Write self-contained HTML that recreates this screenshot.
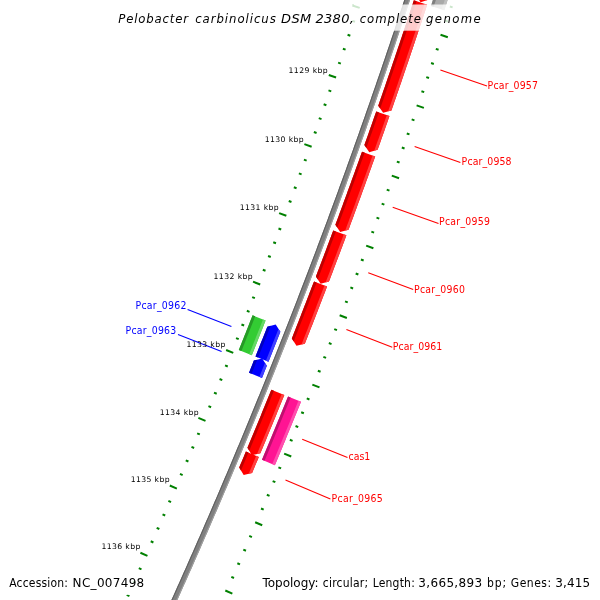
<!DOCTYPE html>
<html><head><meta charset="utf-8"><title>Pelobacter carbinolicus DSM 2380</title>
<style>
html,body{margin:0;padding:0;background:#fff;}
svg{display:block;will-change:transform;}
text{font-family:"DejaVu Sans","Liberation Sans",sans-serif;}
.tk{font-size:7.7px;fill:#000;}
.fl{font-size:10.4px;}
.ti{font-size:13px;font-style:italic;fill:#000;}
.lg{font-size:12px;fill:#000;}
</style></head><body>
<svg width="600" height="600" viewBox="0 0 600 600">
<rect width="600" height="600" fill="#fff"/>
<path d="M420.44 -49.88 L419.54 -47.06 L418.64 -44.24 L417.73 -41.42 L416.83 -38.61 L415.93 -35.79 L415.02 -32.97 L414.11 -30.16 L413.2 -27.34 L412.29 -24.52 L411.38 -21.71 L410.47 -18.9 L409.55 -16.08 L408.63 -13.27 L407.72 -10.45 L406.8 -7.64 L405.88 -4.83 L404.96 -2.02 L404.03 0.79 L403.11 3.6 L402.18 6.41 L401.26 9.22 L400.33 12.03 L399.4 14.84 L398.47 17.65 L397.53 20.46 L396.6 23.27 L395.67 26.08 L394.73 28.88 L393.79 31.69 L392.85 34.49 L391.91 37.3 L390.97 40.11 L390.03 42.91 L389.08 45.71 L388.13 48.52 L387.19 51.32 L386.24 54.12 L385.29 56.93 L384.34 59.73 L383.38 62.53 L382.43 65.33 L381.47 68.13 L380.52 70.93 L379.56 73.73 L378.6 76.53 L377.64 79.33 L376.68 82.12 L375.71 84.92 L374.75 87.72 L373.78 90.52 L372.81 93.31 L371.84 96.11 L370.87 98.9 L369.9 101.7 L368.93 104.49 L367.95 107.29 L366.98 110.08 L366 112.87 L365.02 115.66 L364.04 118.46 L363.06 121.25 L362.07 124.04 L361.09 126.83 L360.1 129.62 L359.12 132.41 L358.13 135.2 L357.14 137.99 L356.15 140.78 L355.16 143.56 L354.16 146.35 L353.17 149.14 L352.17 151.92 L351.17 154.71 L350.17 157.49 L349.17 160.28 L348.17 163.06 L347.17 165.85 L346.16 168.63 L345.16 171.41 L344.15 174.19 L343.14 176.98 L342.13 179.76 L341.12 182.54 L340.11 185.32 L339.09 188.1 L338.08 190.88 L337.06 193.66 L336.04 196.43 L335.03 199.21 L334 201.99 L332.98 204.77 L331.96 207.54 L330.93 210.32 L329.91 213.09 L328.88 215.87 L327.85 218.64 L326.82 221.42 L325.79 224.19 L324.76 226.96 L323.72 229.74 L322.69 232.51 L321.65 235.28 L320.61 238.05 L319.57 240.82 L318.53 243.59 L317.49 246.36 L316.45 249.13 L315.4 251.9 L314.35 254.66 L313.31 257.43 L312.26 260.2 L311.21 262.96 L310.15 265.73 L309.1 268.5 L308.05 271.26 L306.99 274.02 L305.93 276.79 L304.88 279.55 L303.82 282.31 L302.75 285.08 L301.69 287.84 L300.63 290.6 L299.56 293.36 L298.5 296.12 L297.43 298.88 L296.36 301.64 L295.29 304.4 L294.22 307.15 L293.14 309.91 L292.07 312.67 L290.99 315.43 L289.92 318.18 L288.84 320.94 L287.76 323.69 L286.68 326.45 L285.59 329.2 L284.51 331.95 L283.42 334.71 L282.34 337.46 L281.25 340.21 L280.16 342.96 L279.07 345.71 L277.98 348.46 L276.88 351.21 L275.79 353.96 L274.69 356.71 L273.6 359.46 L272.5 362.2 L271.4 364.95 L270.3 367.7 L269.19 370.44 L268.09 373.19 L266.98 375.93 L265.88 378.68 L264.77 381.42 L263.66 384.16 L262.55 386.91 L261.44 389.65 L260.32 392.39 L259.21 395.13 L258.09 397.87 L256.98 400.61 L255.86 403.35 L254.74 406.09 L253.62 408.83 L252.49 411.57 L251.37 414.3 L250.24 417.04 L249.12 419.78 L247.99 422.51 L246.86 425.25 L245.73 427.98 L244.6 430.71 L243.46 433.45 L242.33 436.18 L241.19 438.91 L240.06 441.65 L238.92 444.38 L237.78 447.11 L236.64 449.84 L235.49 452.57 L234.35 455.3 L233.2 458.02 L232.06 460.75 L230.91 463.48 L229.76 466.21 L228.61 468.93 L227.46 471.66 L226.31 474.38 L225.15 477.11 L223.99 479.83 L222.84 482.55 L221.68 485.28 L220.52 488 L219.36 490.72 L218.2 493.44 L217.03 496.16 L215.87 498.88 L214.7 501.6 L213.53 504.32 L212.36 507.04 L211.19 509.76 L210.02 512.47 L208.85 515.19 L207.67 517.91 L206.5 520.62 L205.32 523.34 L204.14 526.05 L202.96 528.76 L201.78 531.48 L200.6 534.19 L199.42 536.9 L198.23 539.61 L197.04 542.32 L195.86 545.03 L194.67 547.74 L193.48 550.45 L192.29 553.16 L191.09 555.87 L189.9 558.58 L188.7 561.28 L187.51 563.99 L186.31 566.69 L185.11 569.4 L183.91 572.1 L182.71 574.81 L181.5 577.51 L180.3 580.21 L179.09 582.91 L177.89 585.62 L176.68 588.32 L175.47 591.02 L174.26 593.72 L173.04 596.42 L171.83 599.11 L170.61 601.81 L169.4 604.51 L168.18 607.21 L166.96 609.9 L165.74 612.6 L164.52 615.29 L163.3 617.99 L162.07 620.68 L160.85 623.38 L159.62 626.07 L158.39 628.76 L157.16 631.45 L155.93 634.14 L154.7 636.83 L153.46 639.52 L152.23 642.21 L150.99 644.9 L149.76 647.59 L148.52 650.27 L147.28 652.96 L152.18 655.22 L153.42 652.54 L154.66 649.85 L155.9 647.16 L157.14 644.47 L158.37 641.77 L159.61 639.08 L160.84 636.39 L162.07 633.7 L163.3 631 L164.53 628.31 L165.76 625.61 L166.99 622.92 L168.21 620.22 L169.44 617.52 L170.66 614.83 L171.88 612.13 L173.1 609.43 L174.32 606.73 L175.54 604.03 L176.75 601.33 L177.97 598.63 L179.18 595.93 L180.39 593.23 L181.61 590.52 L182.82 587.82 L184.02 585.12 L185.23 582.41 L186.44 579.71 L187.64 577 L188.84 574.3 L190.05 571.59 L191.25 568.88 L192.45 566.17 L193.64 563.47 L194.84 560.76 L196.03 558.05 L197.23 555.34 L198.42 552.63 L199.61 549.91 L200.8 547.2 L201.99 544.49 L203.18 541.78 L204.36 539.06 L205.55 536.35 L206.73 533.63 L207.91 530.92 L209.1 528.2 L210.27 525.48 L211.45 522.77 L212.63 520.05 L213.8 517.33 L214.98 514.61 L216.15 511.89 L217.32 509.17 L218.49 506.45 L219.66 503.73 L220.83 501.01 L222 498.29 L223.16 495.56 L224.32 492.84 L225.49 490.12 L226.65 487.39 L227.81 484.67 L228.97 481.94 L230.12 479.21 L231.28 476.49 L232.43 473.76 L233.58 471.03 L234.74 468.3 L235.89 465.57 L237.04 462.84 L238.18 460.11 L239.33 457.38 L240.47 454.65 L241.62 451.92 L242.76 449.19 L243.9 446.46 L245.04 443.72 L246.18 440.99 L247.32 438.25 L248.45 435.52 L249.59 432.78 L250.72 430.05 L251.85 427.31 L252.98 424.57 L254.11 421.83 L255.24 419.09 L256.36 416.36 L257.49 413.62 L258.61 410.88 L259.74 408.14 L260.86 405.39 L261.98 402.65 L263.09 399.91 L264.21 397.17 L265.33 394.42 L266.44 391.68 L267.55 388.94 L268.67 386.19 L269.78 383.44 L270.89 380.7 L271.99 377.95 L273.1 375.2 L274.2 372.46 L275.31 369.71 L276.41 366.96 L277.51 364.21 L278.61 361.46 L279.71 358.71 L280.81 355.96 L281.9 353.21 L283 350.46 L284.09 347.7 L285.18 344.95 L286.27 342.2 L287.36 339.44 L288.45 336.69 L289.53 333.93 L290.62 331.18 L291.7 328.42 L292.78 325.66 L293.87 322.91 L294.94 320.15 L296.02 317.39 L297.1 314.63 L298.18 311.87 L299.25 309.11 L300.32 306.35 L301.39 303.59 L302.46 300.83 L303.53 298.07 L304.6 295.3 L305.67 292.54 L306.73 289.78 L307.8 287.01 L308.86 284.25 L309.92 281.48 L310.98 278.72 L312.04 275.95 L313.09 273.19 L314.15 270.42 L315.2 267.65 L316.25 264.88 L317.31 262.11 L318.36 259.34 L319.4 256.58 L320.45 253.8 L321.5 251.03 L322.54 248.26 L323.59 245.49 L324.63 242.72 L325.67 239.95 L326.71 237.17 L327.75 234.4 L328.78 231.62 L329.82 228.85 L330.85 226.07 L331.88 223.3 L332.91 220.52 L333.94 217.75 L334.97 214.97 L336 212.19 L337.03 209.41 L338.05 206.63 L339.07 203.85 L340.09 201.07 L341.11 198.29 L342.13 195.51 L343.15 192.73 L344.17 189.95 L345.18 187.17 L346.2 184.39 L347.21 181.6 L348.22 178.82 L349.23 176.03 L350.24 173.25 L351.24 170.46 L352.25 167.68 L353.25 164.89 L354.26 162.11 L355.26 159.32 L356.26 156.53 L357.26 153.74 L358.25 150.95 L359.25 148.16 L360.24 145.37 L361.24 142.58 L362.23 139.79 L363.22 137 L364.21 134.21 L365.2 131.42 L366.18 128.63 L367.17 125.83 L368.15 123.04 L369.13 120.25 L370.11 117.45 L371.09 114.66 L372.07 111.86 L373.05 109.07 L374.03 106.27 L375 103.47 L375.97 100.68 L376.94 97.88 L377.91 95.08 L378.88 92.28 L379.85 89.48 L380.82 86.68 L381.78 83.88 L382.74 81.08 L383.71 78.28 L384.67 75.48 L385.63 72.68 L386.58 69.88 L387.54 67.07 L388.5 64.27 L389.45 61.47 L390.4 58.66 L391.35 55.86 L392.3 53.05 L393.25 50.25 L394.2 47.44 L395.14 44.63 L396.09 41.83 L397.03 39.02 L397.97 36.21 L398.91 33.4 L399.85 30.59 L400.79 27.78 L401.72 24.97 L402.66 22.16 L403.59 19.35 L404.52 16.54 L405.46 13.73 L406.38 10.92 L407.31 8.11 L408.24 5.29 L409.16 2.48 L410.09 -0.33 L411.01 -3.15 L411.93 -5.96 L412.85 -8.78 L413.77 -11.59 L414.69 -14.41 L415.6 -17.23 L416.52 -20.04 L417.43 -22.86 L418.34 -25.68 L419.25 -28.5 L420.16 -31.32 L421.07 -34.14 L421.97 -36.96 L422.88 -39.78 L423.78 -42.6 L424.68 -45.42 L425.58 -48.24 Z" fill="#808080"/>
<path d="M420.44 -49.88 L419.54 -47.06 L418.64 -44.24 L417.73 -41.42 L416.83 -38.61 L415.93 -35.79 L415.02 -32.97 L414.11 -30.16 L413.2 -27.34 L412.29 -24.52 L411.38 -21.71 L410.47 -18.9 L409.55 -16.08 L408.63 -13.27 L407.72 -10.45 L406.8 -7.64 L405.88 -4.83 L404.96 -2.02 L404.03 0.79 L403.11 3.6 L402.18 6.41 L401.26 9.22 L400.33 12.03 L399.4 14.84 L398.47 17.65 L397.53 20.46 L396.6 23.27 L395.67 26.08 L394.73 28.88 L393.79 31.69 L392.85 34.49 L391.91 37.3 L390.97 40.11 L390.03 42.91 L389.08 45.71 L388.13 48.52 L387.19 51.32 L386.24 54.12 L385.29 56.93 L384.34 59.73 L383.38 62.53 L382.43 65.33 L381.47 68.13 L380.52 70.93 L379.56 73.73 L378.6 76.53 L377.64 79.33 L376.68 82.12 L375.71 84.92 L374.75 87.72 L373.78 90.52 L372.81 93.31 L371.84 96.11 L370.87 98.9 L369.9 101.7 L368.93 104.49 L367.95 107.29 L366.98 110.08 L366 112.87 L365.02 115.66 L364.04 118.46 L363.06 121.25 L362.07 124.04 L361.09 126.83 L360.1 129.62 L359.12 132.41 L358.13 135.2 L357.14 137.99 L356.15 140.78 L355.16 143.56 L354.16 146.35 L353.17 149.14 L352.17 151.92 L351.17 154.71 L350.17 157.49 L349.17 160.28 L348.17 163.06 L347.17 165.85 L346.16 168.63 L345.16 171.41 L344.15 174.19 L343.14 176.98 L342.13 179.76 L341.12 182.54 L340.11 185.32 L339.09 188.1 L338.08 190.88 L337.06 193.66 L336.04 196.43 L335.03 199.21 L334 201.99 L332.98 204.77 L331.96 207.54 L330.93 210.32 L329.91 213.09 L328.88 215.87 L327.85 218.64 L326.82 221.42 L325.79 224.19 L324.76 226.96 L323.72 229.74 L322.69 232.51 L321.65 235.28 L320.61 238.05 L319.57 240.82 L318.53 243.59 L317.49 246.36 L316.45 249.13 L315.4 251.9 L314.35 254.66 L313.31 257.43 L312.26 260.2 L311.21 262.96 L310.15 265.73 L309.1 268.5 L308.05 271.26 L306.99 274.02 L305.93 276.79 L304.88 279.55 L303.82 282.31 L302.75 285.08 L301.69 287.84 L300.63 290.6 L299.56 293.36 L298.5 296.12 L297.43 298.88 L296.36 301.64 L295.29 304.4 L294.22 307.15 L293.14 309.91 L292.07 312.67 L290.99 315.43 L289.92 318.18 L288.84 320.94 L287.76 323.69 L286.68 326.45 L285.59 329.2 L284.51 331.95 L283.42 334.71 L282.34 337.46 L281.25 340.21 L280.16 342.96 L279.07 345.71 L277.98 348.46 L276.88 351.21 L275.79 353.96 L274.69 356.71 L273.6 359.46 L272.5 362.2 L271.4 364.95 L270.3 367.7 L269.19 370.44 L268.09 373.19 L266.98 375.93 L265.88 378.68 L264.77 381.42 L263.66 384.16 L262.55 386.91 L261.44 389.65 L260.32 392.39 L259.21 395.13 L258.09 397.87 L256.98 400.61 L255.86 403.35 L254.74 406.09 L253.62 408.83 L252.49 411.57 L251.37 414.3 L250.24 417.04 L249.12 419.78 L247.99 422.51 L246.86 425.25 L245.73 427.98 L244.6 430.71 L243.46 433.45 L242.33 436.18 L241.19 438.91 L240.06 441.65 L238.92 444.38 L237.78 447.11 L236.64 449.84 L235.49 452.57 L234.35 455.3 L233.2 458.02 L232.06 460.75 L230.91 463.48 L229.76 466.21 L228.61 468.93 L227.46 471.66 L226.31 474.38 L225.15 477.11 L223.99 479.83 L222.84 482.55 L221.68 485.28 L220.52 488 L219.36 490.72 L218.2 493.44 L217.03 496.16 L215.87 498.88 L214.7 501.6 L213.53 504.32 L212.36 507.04 L211.19 509.76 L210.02 512.47 L208.85 515.19 L207.67 517.91 L206.5 520.62 L205.32 523.34 L204.14 526.05 L202.96 528.76 L201.78 531.48 L200.6 534.19 L199.42 536.9 L198.23 539.61 L197.04 542.32 L195.86 545.03 L194.67 547.74 L193.48 550.45 L192.29 553.16 L191.09 555.87 L189.9 558.58 L188.7 561.28 L187.51 563.99 L186.31 566.69 L185.11 569.4 L183.91 572.1 L182.71 574.81 L181.5 577.51 L180.3 580.21 L179.09 582.91 L177.89 585.62 L176.68 588.32 L175.47 591.02 L174.26 593.72 L173.04 596.42 L171.83 599.11 L170.61 601.81 L169.4 604.51 L168.18 607.21 L166.96 609.9 L165.74 612.6 L164.52 615.29 L163.3 617.99 L162.07 620.68 L160.85 623.38 L159.62 626.07 L158.39 628.76 L157.16 631.45 L155.93 634.14 L154.7 636.83 L153.46 639.52 L152.23 642.21 L150.99 644.9 L149.76 647.59 L148.52 650.27 L147.28 652.96 L148.26 653.41 L149.5 650.73 L150.74 648.04 L151.97 645.35 L153.21 642.66 L154.45 639.97 L155.68 637.28 L156.91 634.59 L158.14 631.9 L159.37 629.21 L160.6 626.52 L161.83 623.82 L163.05 621.13 L164.28 618.43 L165.5 615.74 L166.72 613.04 L167.94 610.35 L169.16 607.65 L170.38 604.95 L171.6 602.26 L172.81 599.56 L174.03 596.86 L175.24 594.16 L176.45 591.46 L177.66 588.76 L178.87 586.06 L180.08 583.36 L181.29 580.65 L182.49 577.95 L183.69 575.25 L184.9 572.54 L186.1 569.84 L187.3 567.13 L188.49 564.43 L189.69 561.72 L190.89 559.01 L192.08 556.3 L193.27 553.6 L194.47 550.89 L195.66 548.18 L196.85 545.47 L198.03 542.76 L199.22 540.04 L200.41 537.33 L201.59 534.62 L202.77 531.91 L203.95 529.19 L205.13 526.48 L206.31 523.77 L207.49 521.05 L208.66 518.33 L209.84 515.62 L211.01 512.9 L212.18 510.18 L213.36 507.46 L214.52 504.75 L215.69 502.03 L216.86 499.31 L218.02 496.59 L219.19 493.87 L220.35 491.14 L221.51 488.42 L222.67 485.7 L223.83 482.98 L224.99 480.25 L226.14 477.53 L227.3 474.8 L228.45 472.08 L229.61 469.35 L230.76 466.62 L231.91 463.9 L233.05 461.17 L234.2 458.44 L235.35 455.71 L236.49 452.98 L237.63 450.25 L238.77 447.52 L239.91 444.79 L241.05 442.06 L242.19 439.33 L243.33 436.6 L244.46 433.86 L245.6 431.13 L246.73 428.39 L247.86 425.66 L248.99 422.92 L250.12 420.19 L251.24 417.45 L252.37 414.71 L253.49 411.98 L254.62 409.24 L255.74 406.5 L256.86 403.76 L257.98 401.02 L259.09 398.28 L260.21 395.54 L261.32 392.8 L262.44 390.06 L263.55 387.31 L264.66 384.57 L265.77 381.83 L266.88 379.08 L267.99 376.34 L269.09 373.59 L270.2 370.85 L271.3 368.1 L272.4 365.35 L273.5 362.61 L274.6 359.86 L275.7 357.11 L276.79 354.36 L277.89 351.61 L278.98 348.86 L280.07 346.11 L281.16 343.36 L282.25 340.61 L283.34 337.85 L284.43 335.1 L285.51 332.35 L286.6 329.6 L287.68 326.84 L288.76 324.09 L289.84 321.33 L290.92 318.57 L292 315.82 L293.08 313.06 L294.15 310.3 L295.22 307.55 L296.3 304.79 L297.37 302.03 L298.44 299.27 L299.5 296.51 L300.57 293.75 L301.64 290.99 L302.7 288.23 L303.76 285.46 L304.82 282.7 L305.88 279.94 L306.94 277.17 L308 274.41 L309.06 271.65 L310.11 268.88 L311.16 266.11 L312.22 263.35 L313.27 260.58 L314.32 257.81 L315.36 255.05 L316.41 252.28 L317.46 249.51 L318.5 246.74 L319.54 243.97 L320.58 241.2 L321.62 238.43 L322.66 235.66 L323.7 232.89 L324.73 230.11 L325.77 227.34 L326.8 224.57 L327.83 221.79 L328.86 219.02 L329.89 216.24 L330.92 213.47 L331.95 210.69 L332.97 207.92 L334 205.14 L335.02 202.36 L336.04 199.58 L337.06 196.81 L338.08 194.03 L339.09 191.25 L340.11 188.47 L341.12 185.69 L342.14 182.91 L343.15 180.13 L344.16 177.34 L345.17 174.56 L346.17 171.78 L347.18 169 L348.19 166.21 L349.19 163.43 L350.19 160.64 L351.19 157.86 L352.19 155.07 L353.19 152.29 L354.18 149.5 L355.18 146.71 L356.17 143.93 L357.17 141.14 L358.16 138.35 L359.15 135.56 L360.14 132.77 L361.12 129.98 L362.11 127.19 L363.09 124.4 L364.08 121.61 L365.06 118.81 L366.04 116.02 L367.02 113.23 L367.99 110.44 L368.97 107.64 L369.95 104.85 L370.92 102.05 L371.89 99.26 L372.86 96.46 L373.83 93.67 L374.8 90.87 L375.77 88.07 L376.73 85.27 L377.7 82.48 L378.66 79.68 L379.62 76.88 L380.58 74.08 L381.54 71.28 L382.5 68.48 L383.45 65.68 L384.41 62.88 L385.36 60.07 L386.31 57.27 L387.26 54.47 L388.21 51.67 L389.16 48.86 L390.1 46.06 L391.05 43.25 L391.99 40.45 L392.94 37.64 L393.88 34.84 L394.82 32.03 L395.75 29.22 L396.69 26.42 L397.63 23.61 L398.56 20.8 L399.49 17.99 L400.42 15.18 L401.35 12.37 L402.28 9.56 L403.21 6.75 L404.14 3.94 L405.06 1.13 L405.98 -1.68 L406.9 -4.49 L407.82 -7.31 L408.74 -10.12 L409.66 -12.93 L410.58 -15.75 L411.49 -18.56 L412.41 -21.38 L413.32 -24.19 L414.23 -27.01 L415.14 -29.82 L416.05 -32.64 L416.95 -35.46 L417.86 -38.28 L418.76 -41.09 L419.67 -43.91 L420.57 -46.73 L421.47 -49.55 Z" fill="#606060"/>
<path d="M424.55 -48.57 L423.65 -45.75 L422.75 -42.93 L421.85 -40.11 L420.94 -37.29 L420.04 -34.47 L419.13 -31.65 L418.22 -28.83 L417.31 -26.01 L416.4 -23.19 L415.49 -20.38 L414.57 -17.56 L413.66 -14.74 L412.74 -11.93 L411.82 -9.11 L410.9 -6.3 L409.98 -3.49 L409.06 -0.67 L408.14 2.14 L407.21 4.95 L406.29 7.77 L405.36 10.58 L404.43 13.39 L403.5 16.2 L402.57 19.01 L401.63 21.82 L400.7 24.63 L399.76 27.44 L398.83 30.25 L397.89 33.06 L396.95 35.87 L396.01 38.67 L395.06 41.48 L394.12 44.29 L393.17 47.09 L392.23 49.9 L391.28 52.7 L390.33 55.51 L389.38 58.31 L388.43 61.12 L387.47 63.92 L386.52 66.72 L385.56 69.53 L384.6 72.33 L383.65 75.13 L382.68 77.93 L381.72 80.73 L380.76 83.53 L379.8 86.33 L378.83 89.13 L377.86 91.93 L376.89 94.73 L375.92 97.52 L374.95 100.32 L373.98 103.12 L373.01 105.91 L372.03 108.71 L371.05 111.51 L370.08 114.3 L369.1 117.09 L368.11 119.89 L367.13 122.68 L366.15 125.48 L365.16 128.27 L364.18 131.06 L363.19 133.85 L362.2 136.64 L361.21 139.43 L360.22 142.22 L359.23 145.01 L358.23 147.8 L357.24 150.59 L356.24 153.38 L355.24 156.17 L354.24 158.95 L353.24 161.74 L352.24 164.53 L351.23 167.31 L350.23 170.1 L349.22 172.88 L348.21 175.67 L347.2 178.45 L346.19 181.23 L345.18 184.02 L344.17 186.8 L343.15 189.58 L342.14 192.36 L341.12 195.14 L340.1 197.92 L339.08 200.7 L338.06 203.48 L337.04 206.26 L336.01 209.04 L334.99 211.82 L333.96 214.59 L332.93 217.37 L331.9 220.15 L330.87 222.92 L329.84 225.7 L328.8 228.47 L327.77 231.25 L326.73 234.02 L325.7 236.79 L324.66 239.57 L323.62 242.34 L322.57 245.11 L321.53 247.88 L320.49 250.65 L319.44 253.42 L318.39 256.19 L317.35 258.96 L316.3 261.73 L315.24 264.5 L314.19 267.27 L313.14 270.03 L312.08 272.8 L311.03 275.57 L309.97 278.33 L308.91 281.1 L307.85 283.86 L306.79 286.63 L305.72 289.39 L304.66 292.15 L303.59 294.92 L302.53 297.68 L301.46 300.44 L300.39 303.2 L299.32 305.96 L298.24 308.72 L297.17 311.48 L296.09 314.24 L295.02 317 L293.94 319.76 L292.86 322.51 L291.78 325.27 L290.7 328.03 L289.61 330.78 L288.53 333.54 L287.44 336.29 L286.36 339.05 L285.27 341.8 L284.18 344.55 L283.09 347.3 L281.99 350.06 L280.9 352.81 L279.8 355.56 L278.71 358.31 L277.61 361.06 L276.51 363.81 L275.41 366.56 L274.31 369.31 L273.2 372.05 L272.1 374.8 L270.99 377.55 L269.88 380.29 L268.77 383.04 L267.66 385.79 L266.55 388.53 L265.44 391.27 L264.33 394.02 L263.21 396.76 L262.09 399.5 L260.98 402.24 L259.86 404.99 L258.74 407.73 L257.61 410.47 L256.49 413.21 L255.37 415.95 L254.24 418.68 L253.11 421.42 L251.98 424.16 L250.85 426.9 L249.72 429.63 L248.59 432.37 L247.45 435.1 L246.32 437.84 L245.18 440.57 L244.04 443.31 L242.9 446.04 L241.76 448.77 L240.62 451.5 L239.48 454.24 L238.33 456.97 L237.19 459.7 L236.04 462.43 L234.89 465.16 L233.74 467.88 L232.59 470.61 L231.44 473.34 L230.28 476.07 L229.13 478.79 L227.97 481.52 L226.81 484.24 L225.65 486.97 L224.49 489.69 L223.33 492.42 L222.17 495.14 L221 497.86 L219.84 500.58 L218.67 503.3 L217.5 506.03 L216.33 508.75 L215.16 511.47 L213.99 514.18 L212.81 516.9 L211.64 519.62 L210.46 522.34 L209.28 525.05 L208.1 527.77 L206.92 530.49 L205.74 533.2 L204.56 535.92 L203.37 538.63 L202.19 541.34 L201 544.06 L199.81 546.77 L198.62 549.48 L197.43 552.19 L196.24 554.9 L195.05 557.61 L193.85 560.32 L192.66 563.03 L191.46 565.74 L190.26 568.44 L189.06 571.15 L187.86 573.86 L186.65 576.56 L185.45 579.27 L184.24 581.97 L183.04 584.68 L181.83 587.38 L180.62 590.08 L179.41 592.79 L178.2 595.49 L176.98 598.19 L175.77 600.89 L174.55 603.59 L173.34 606.29 L172.12 608.99 L170.9 611.68 L169.68 614.38 L168.45 617.08 L167.23 619.77 L166 622.47 L164.78 625.17 L163.55 627.86 L162.32 630.55 L161.09 633.25 L159.86 635.94 L158.62 638.63 L157.39 641.32 L156.15 644.01 L154.92 646.7 L153.68 649.39 L152.44 652.08 L151.2 654.77 L152.18 655.22 L153.42 652.54 L154.66 649.85 L155.9 647.16 L157.14 644.47 L158.37 641.77 L159.61 639.08 L160.84 636.39 L162.07 633.7 L163.3 631 L164.53 628.31 L165.76 625.61 L166.99 622.92 L168.21 620.22 L169.44 617.52 L170.66 614.83 L171.88 612.13 L173.1 609.43 L174.32 606.73 L175.54 604.03 L176.75 601.33 L177.97 598.63 L179.18 595.93 L180.39 593.23 L181.61 590.52 L182.82 587.82 L184.02 585.12 L185.23 582.41 L186.44 579.71 L187.64 577 L188.84 574.3 L190.05 571.59 L191.25 568.88 L192.45 566.17 L193.64 563.47 L194.84 560.76 L196.03 558.05 L197.23 555.34 L198.42 552.63 L199.61 549.91 L200.8 547.2 L201.99 544.49 L203.18 541.78 L204.36 539.06 L205.55 536.35 L206.73 533.63 L207.91 530.92 L209.1 528.2 L210.27 525.48 L211.45 522.77 L212.63 520.05 L213.8 517.33 L214.98 514.61 L216.15 511.89 L217.32 509.17 L218.49 506.45 L219.66 503.73 L220.83 501.01 L222 498.29 L223.16 495.56 L224.32 492.84 L225.49 490.12 L226.65 487.39 L227.81 484.67 L228.97 481.94 L230.12 479.21 L231.28 476.49 L232.43 473.76 L233.58 471.03 L234.74 468.3 L235.89 465.57 L237.04 462.84 L238.18 460.11 L239.33 457.38 L240.47 454.65 L241.62 451.92 L242.76 449.19 L243.9 446.46 L245.04 443.72 L246.18 440.99 L247.32 438.25 L248.45 435.52 L249.59 432.78 L250.72 430.05 L251.85 427.31 L252.98 424.57 L254.11 421.83 L255.24 419.09 L256.36 416.36 L257.49 413.62 L258.61 410.88 L259.74 408.14 L260.86 405.39 L261.98 402.65 L263.09 399.91 L264.21 397.17 L265.33 394.42 L266.44 391.68 L267.55 388.94 L268.67 386.19 L269.78 383.44 L270.89 380.7 L271.99 377.95 L273.1 375.2 L274.2 372.46 L275.31 369.71 L276.41 366.96 L277.51 364.21 L278.61 361.46 L279.71 358.71 L280.81 355.96 L281.9 353.21 L283 350.46 L284.09 347.7 L285.18 344.95 L286.27 342.2 L287.36 339.44 L288.45 336.69 L289.53 333.93 L290.62 331.18 L291.7 328.42 L292.78 325.66 L293.87 322.91 L294.94 320.15 L296.02 317.39 L297.1 314.63 L298.18 311.87 L299.25 309.11 L300.32 306.35 L301.39 303.59 L302.46 300.83 L303.53 298.07 L304.6 295.3 L305.67 292.54 L306.73 289.78 L307.8 287.01 L308.86 284.25 L309.92 281.48 L310.98 278.72 L312.04 275.95 L313.09 273.19 L314.15 270.42 L315.2 267.65 L316.25 264.88 L317.31 262.11 L318.36 259.34 L319.4 256.58 L320.45 253.8 L321.5 251.03 L322.54 248.26 L323.59 245.49 L324.63 242.72 L325.67 239.95 L326.71 237.17 L327.75 234.4 L328.78 231.62 L329.82 228.85 L330.85 226.07 L331.88 223.3 L332.91 220.52 L333.94 217.75 L334.97 214.97 L336 212.19 L337.03 209.41 L338.05 206.63 L339.07 203.85 L340.09 201.07 L341.11 198.29 L342.13 195.51 L343.15 192.73 L344.17 189.95 L345.18 187.17 L346.2 184.39 L347.21 181.6 L348.22 178.82 L349.23 176.03 L350.24 173.25 L351.24 170.46 L352.25 167.68 L353.25 164.89 L354.26 162.11 L355.26 159.32 L356.26 156.53 L357.26 153.74 L358.25 150.95 L359.25 148.16 L360.24 145.37 L361.24 142.58 L362.23 139.79 L363.22 137 L364.21 134.21 L365.2 131.42 L366.18 128.63 L367.17 125.83 L368.15 123.04 L369.13 120.25 L370.11 117.45 L371.09 114.66 L372.07 111.86 L373.05 109.07 L374.03 106.27 L375 103.47 L375.97 100.68 L376.94 97.88 L377.91 95.08 L378.88 92.28 L379.85 89.48 L380.82 86.68 L381.78 83.88 L382.74 81.08 L383.71 78.28 L384.67 75.48 L385.63 72.68 L386.58 69.88 L387.54 67.07 L388.5 64.27 L389.45 61.47 L390.4 58.66 L391.35 55.86 L392.3 53.05 L393.25 50.25 L394.2 47.44 L395.14 44.63 L396.09 41.83 L397.03 39.02 L397.97 36.21 L398.91 33.4 L399.85 30.59 L400.79 27.78 L401.72 24.97 L402.66 22.16 L403.59 19.35 L404.52 16.54 L405.46 13.73 L406.38 10.92 L407.31 8.11 L408.24 5.29 L409.16 2.48 L410.09 -0.33 L411.01 -3.15 L411.93 -5.96 L412.85 -8.78 L413.77 -11.59 L414.69 -14.41 L415.6 -17.23 L416.52 -20.04 L417.43 -22.86 L418.34 -25.68 L419.25 -28.5 L420.16 -31.32 L421.07 -34.14 L421.97 -36.96 L422.88 -39.78 L423.78 -42.6 L424.68 -45.42 L425.58 -48.24 Z" fill="#a0a0a0"/>
<g stroke="#008000" stroke-width="2"><line x1="375.09" y1="-64.34" x2="382.42" y2="-62"/><line x1="463.6" y1="-36.12" x2="470.93" y2="-33.78"/><line x1="375.18" y1="-48.89" x2="377.94" y2="-48"/><line x1="459.05" y1="-21.92" x2="461.81" y2="-21.03"/><line x1="370.67" y1="-34.91" x2="373.42" y2="-34.02"/><line x1="454.47" y1="-7.74" x2="457.23" y2="-6.84"/><line x1="366.12" y1="-20.94" x2="368.87" y2="-20.04"/><line x1="449.86" y1="6.44" x2="452.61" y2="7.34"/><line x1="361.54" y1="-6.98" x2="364.29" y2="-6.08"/><line x1="445.21" y1="20.6" x2="447.96" y2="21.5"/><line x1="352.36" y1="5.45" x2="359.67" y2="7.88"/><line x1="440.52" y1="34.75" x2="447.83" y2="37.18"/><line x1="352.27" y1="20.9" x2="355.02" y2="21.82"/><line x1="435.81" y1="48.89" x2="438.56" y2="49.81"/><line x1="347.59" y1="34.82" x2="350.33" y2="35.75"/><line x1="431.05" y1="63.01" x2="433.8" y2="63.94"/><line x1="342.87" y1="48.73" x2="345.61" y2="49.67"/><line x1="426.27" y1="77.13" x2="429.01" y2="78.06"/><line x1="338.12" y1="62.64" x2="340.86" y2="63.58"/><line x1="421.45" y1="91.23" x2="424.19" y2="92.17"/><line x1="328.79" y1="74.96" x2="336.07" y2="77.47"/><line x1="416.59" y1="105.32" x2="423.87" y2="107.84"/><line x1="328.51" y1="90.4" x2="331.25" y2="91.36"/><line x1="411.7" y1="119.4" x2="414.44" y2="120.36"/><line x1="323.66" y1="104.27" x2="326.39" y2="105.23"/><line x1="406.78" y1="133.47" x2="409.51" y2="134.43"/><line x1="318.77" y1="118.12" x2="321.51" y2="119.09"/><line x1="401.82" y1="147.53" x2="404.55" y2="148.5"/><line x1="313.85" y1="131.97" x2="316.58" y2="132.94"/><line x1="396.83" y1="161.57" x2="399.56" y2="162.55"/><line x1="304.38" y1="144.17" x2="311.63" y2="146.78"/><line x1="391.8" y1="175.61" x2="399.05" y2="178.21"/><line x1="303.91" y1="159.62" x2="306.64" y2="160.6"/><line x1="386.74" y1="189.63" x2="389.47" y2="190.61"/><line x1="298.89" y1="173.42" x2="301.61" y2="174.42"/><line x1="381.65" y1="203.63" x2="384.37" y2="204.63"/><line x1="293.84" y1="187.22" x2="296.56" y2="188.22"/><line x1="376.52" y1="217.63" x2="379.24" y2="218.63"/><line x1="288.75" y1="201" x2="291.47" y2="202"/><line x1="371.36" y1="231.61" x2="374.08" y2="232.62"/><line x1="279.13" y1="213.09" x2="286.34" y2="215.78"/><line x1="366.16" y1="245.58" x2="373.38" y2="248.27"/><line x1="278.47" y1="228.52" x2="281.19" y2="229.54"/><line x1="360.93" y1="259.54" x2="363.65" y2="260.56"/><line x1="273.28" y1="242.27" x2="275.99" y2="243.29"/><line x1="355.67" y1="273.48" x2="358.38" y2="274.51"/><line x1="268.06" y1="256" x2="270.77" y2="257.03"/><line x1="350.37" y1="287.41" x2="353.08" y2="288.45"/><line x1="262.81" y1="269.72" x2="265.51" y2="270.76"/><line x1="345.04" y1="301.33" x2="347.74" y2="302.37"/><line x1="253.04" y1="281.69" x2="260.22" y2="284.47"/><line x1="339.67" y1="315.24" x2="346.85" y2="318.02"/><line x1="252.2" y1="297.12" x2="254.9" y2="298.17"/><line x1="334.27" y1="329.13" x2="336.97" y2="330.18"/><line x1="246.84" y1="310.8" x2="249.54" y2="311.86"/><line x1="328.84" y1="343.01" x2="331.54" y2="344.07"/><line x1="241.45" y1="324.46" x2="244.15" y2="325.53"/><line x1="323.37" y1="356.88" x2="326.07" y2="357.94"/><line x1="236.03" y1="338.12" x2="238.72" y2="339.19"/><line x1="317.87" y1="370.73" x2="320.57" y2="371.8"/><line x1="226.12" y1="349.97" x2="233.27" y2="352.84"/><line x1="312.34" y1="384.57" x2="319.48" y2="387.44"/><line x1="225.09" y1="365.38" x2="227.78" y2="366.47"/><line x1="306.77" y1="398.39" x2="309.46" y2="399.48"/><line x1="219.57" y1="379" x2="222.25" y2="380.09"/><line x1="301.17" y1="412.21" x2="303.85" y2="413.3"/><line x1="214.01" y1="392.6" x2="216.7" y2="393.7"/><line x1="295.53" y1="426.01" x2="298.22" y2="427.11"/><line x1="208.43" y1="406.19" x2="211.11" y2="407.29"/><line x1="289.86" y1="439.79" x2="292.55" y2="440.9"/><line x1="198.37" y1="417.92" x2="205.48" y2="420.87"/><line x1="284.16" y1="453.56" x2="291.27" y2="456.52"/><line x1="197.15" y1="433.32" x2="199.83" y2="434.44"/><line x1="278.43" y1="467.32" x2="281.1" y2="468.44"/><line x1="191.47" y1="446.86" x2="194.14" y2="447.99"/><line x1="272.66" y1="481.06" x2="275.33" y2="482.19"/><line x1="185.75" y1="460.4" x2="188.42" y2="461.53"/><line x1="266.86" y1="494.79" x2="269.53" y2="495.92"/><line x1="180" y1="473.91" x2="182.66" y2="475.05"/><line x1="261.02" y1="508.51" x2="263.69" y2="509.65"/><line x1="169.8" y1="485.52" x2="176.87" y2="488.56"/><line x1="255.15" y1="522.21" x2="262.23" y2="525.25"/><line x1="168.39" y1="500.91" x2="171.05" y2="502.06"/><line x1="249.25" y1="535.89" x2="251.91" y2="537.05"/><line x1="162.54" y1="514.38" x2="165.2" y2="515.54"/><line x1="243.31" y1="549.57" x2="245.97" y2="550.72"/><line x1="156.66" y1="527.85" x2="159.32" y2="529.01"/><line x1="237.34" y1="563.22" x2="240" y2="564.39"/><line x1="150.74" y1="541.29" x2="153.4" y2="542.46"/><line x1="231.34" y1="576.87" x2="234" y2="578.04"/><line x1="140.41" y1="552.78" x2="147.45" y2="555.9"/><line x1="225.31" y1="590.5" x2="232.34" y2="593.62"/><line x1="138.81" y1="568.14" x2="141.46" y2="569.33"/><line x1="219.24" y1="604.11" x2="221.89" y2="605.29"/><line x1="132.8" y1="581.55" x2="135.45" y2="582.74"/><line x1="213.14" y1="617.71" x2="215.78" y2="618.9"/><line x1="126.75" y1="594.94" x2="129.4" y2="596.13"/><line x1="207" y1="631.29" x2="209.64" y2="632.49"/><line x1="120.68" y1="608.31" x2="123.31" y2="609.51"/><line x1="200.84" y1="644.86" x2="203.47" y2="646.07"/><line x1="110.2" y1="619.67" x2="117.2" y2="622.88"/><line x1="194.64" y1="658.42" x2="201.63" y2="661.63"/><line x1="108.42" y1="635.01" x2="111.05" y2="636.23"/><line x1="188.4" y1="671.96" x2="191.03" y2="673.17"/></g>
<path d="M455.31 -69.95 L454.4 -67.03 L453.48 -64.11 L452.56 -61.19 L451.63 -58.26 L450.71 -55.34 L449.79 -52.42 L448.86 -49.5 L447.93 -46.58 L447 -43.66 L446.07 -40.74 L445.14 -37.83 L444.21 -34.91 L443.27 -31.99 L442.34 -29.07 L441.4 -26.16 L440.46 -23.24 L439.52 -20.32 L438.58 -17.41 L437.63 -14.49 L436.69 -11.58 L435.74 -8.67 L434.79 -5.75 L433.84 -2.84 L432.89 0.07 L431.94 2.98 L430.99 5.9 L444.29 10.26 L445.25 7.34 L446.2 4.42 L447.15 1.5 L448.11 -1.42 L449.06 -4.34 L450 -7.26 L450.95 -10.18 L451.9 -13.1 L452.84 -16.02 L453.78 -18.94 L454.73 -21.87 L455.67 -24.79 L456.6 -27.71 L457.54 -30.64 L458.48 -33.56 L459.41 -36.49 L460.34 -39.41 L461.27 -42.34 L462.2 -45.27 L463.13 -48.19 L464.06 -51.12 L464.98 -54.05 L465.91 -56.98 L466.83 -59.91 L467.75 -62.84 L468.67 -65.77 Z" fill="#a9a9a9"/>
<path d="M455.31 -69.95 L454.4 -67.03 L453.48 -64.11 L452.56 -61.19 L451.63 -58.26 L450.71 -55.34 L449.79 -52.42 L448.86 -49.5 L447.93 -46.58 L447 -43.66 L446.07 -40.74 L445.14 -37.83 L444.21 -34.91 L443.27 -31.99 L442.34 -29.07 L441.4 -26.16 L440.46 -23.24 L439.52 -20.32 L438.58 -17.41 L437.63 -14.49 L436.69 -11.58 L435.74 -8.67 L434.79 -5.75 L433.84 -2.84 L432.89 0.07 L431.94 2.98 L430.99 5.9 L433.65 6.77 L434.6 3.85 L435.55 0.94 L436.51 -1.97 L437.46 -4.89 L438.4 -7.8 L439.35 -10.72 L440.3 -13.63 L441.24 -16.55 L442.18 -19.46 L443.12 -22.38 L444.06 -25.3 L445 -28.22 L445.94 -31.13 L446.87 -34.05 L447.81 -36.97 L448.74 -39.89 L449.67 -42.81 L450.6 -45.73 L451.53 -48.66 L452.46 -51.58 L453.38 -54.5 L454.3 -57.42 L455.23 -60.34 L456.15 -63.27 L457.07 -66.19 L457.98 -69.12 Z" fill="#7f7f7f"/>
<path d="M466 -66.6 L465.08 -63.67 L464.16 -60.75 L463.24 -57.82 L462.31 -54.89 L461.39 -51.97 L460.46 -49.04 L459.54 -46.11 L458.61 -43.19 L457.68 -40.26 L456.74 -37.34 L455.81 -34.42 L454.87 -31.49 L453.94 -28.57 L453 -25.65 L452.06 -22.73 L451.12 -19.8 L450.18 -16.88 L449.23 -13.96 L448.29 -11.04 L447.34 -8.12 L446.39 -5.2 L445.44 -2.28 L444.49 0.63 L443.54 3.55 L442.59 6.47 L441.63 9.38 L444.29 10.26 L445.25 7.34 L446.2 4.42 L447.15 1.5 L448.11 -1.42 L449.06 -4.34 L450 -7.26 L450.95 -10.18 L451.9 -13.1 L452.84 -16.02 L453.78 -18.94 L454.73 -21.87 L455.67 -24.79 L456.6 -27.71 L457.54 -30.64 L458.48 -33.56 L459.41 -36.49 L460.34 -39.41 L461.27 -42.34 L462.2 -45.27 L463.13 -48.19 L464.06 -51.12 L464.98 -54.05 L465.91 -56.98 L466.83 -59.91 L467.75 -62.84 L468.67 -65.77 Z" fill="#bfbfbf"/>
<path d="M451.28 -117.8 L450.41 -114.97 L449.55 -112.14 L448.68 -109.3 L447.81 -106.47 L446.93 -103.64 L446.06 -100.81 L445.19 -97.97 L444.31 -95.14 L443.43 -92.31 L442.55 -89.48 L441.67 -86.65 L440.79 -83.82 L439.91 -81 L439.02 -78.17 L438.14 -75.34 L437.25 -72.51 L436.36 -69.68 L435.47 -66.86 L434.58 -64.03 L433.69 -61.21 L432.79 -58.38 L431.9 -55.56 L431 -52.73 L430.1 -49.91 L429.2 -47.08 L428.3 -44.26 L427.4 -41.44 L426.5 -38.62 L425.59 -35.79 L424.68 -32.97 L423.78 -30.15 L422.87 -27.33 L421.96 -24.51 L421.04 -21.69 L420.13 -18.87 L419.22 -16.05 L418.3 -13.24 L417.38 -10.42 L416.46 -7.6 L415.54 -4.78 L420.63 2.19 L428.85 -0.43 L429.77 -3.26 L430.69 -6.08 L431.61 -8.9 L432.53 -11.73 L433.45 -14.55 L434.36 -17.38 L435.28 -20.21 L436.19 -23.03 L437.1 -25.86 L438.01 -28.69 L438.92 -31.51 L439.83 -34.34 L440.73 -37.17 L441.64 -40 L442.54 -42.83 L443.44 -45.66 L444.34 -48.49 L445.24 -51.32 L446.14 -54.15 L447.04 -56.99 L447.93 -59.82 L448.82 -62.65 L449.72 -65.48 L450.61 -68.32 L451.5 -71.15 L452.38 -73.99 L453.27 -76.82 L454.16 -79.66 L455.04 -82.49 L455.92 -85.33 L456.8 -88.16 L457.68 -91 L458.56 -93.84 L459.44 -96.68 L460.31 -99.51 L461.19 -102.35 L462.06 -105.19 L462.93 -108.03 L463.8 -110.87 L464.67 -113.71 Z" fill="#ff0000"/>
<path d="M451.28 -117.8 L450.41 -114.97 L449.55 -112.14 L448.68 -109.3 L447.81 -106.47 L446.93 -103.64 L446.06 -100.81 L445.19 -97.97 L444.31 -95.14 L443.43 -92.31 L442.55 -89.48 L441.67 -86.65 L440.79 -83.82 L439.91 -81 L439.02 -78.17 L438.14 -75.34 L437.25 -72.51 L436.36 -69.68 L435.47 -66.86 L434.58 -64.03 L433.69 -61.21 L432.79 -58.38 L431.9 -55.56 L431 -52.73 L430.1 -49.91 L429.2 -47.08 L428.3 -44.26 L427.4 -41.44 L426.5 -38.62 L425.59 -35.79 L424.68 -32.97 L423.78 -30.15 L422.87 -27.33 L421.96 -24.51 L421.04 -21.69 L420.13 -18.87 L419.22 -16.05 L418.3 -13.24 L417.38 -10.42 L416.46 -7.6 L415.54 -4.78 L417.58 -2 L418.51 -4.86 L419.45 -7.73 L420.38 -10.6 L421.32 -13.46 L422.25 -16.33 L423.18 -19.2 L424.11 -22.07 L425.04 -24.94 L425.96 -27.81 L426.89 -30.68 L427.81 -33.55 L428.73 -36.42 L429.65 -39.29 L430.57 -42.16 L431.49 -45.03 L432.4 -47.91 L433.32 -50.78 L434.23 -53.65 L435.14 -56.53 L436.05 -59.4 L436.96 -62.28 L437.87 -65.15 L438.77 -68.03 L439.68 -70.9 L440.58 -73.78 L441.48 -76.66 L442.38 -79.54 L443.28 -82.41 L444.18 -85.29 L445.08 -88.17 L445.97 -91.05 L446.86 -93.93 L447.76 -96.81 L448.65 -99.69 L449.54 -102.57 L450.42 -105.45 L451.31 -108.34 L452.19 -111.22 L453.08 -114.1 L453.96 -116.99 Z" fill="#bf0000"/>
<path d="M464.67 -113.71 L463.8 -110.87 L462.93 -108.03 L462.06 -105.19 L461.19 -102.35 L460.31 -99.51 L459.44 -96.68 L458.56 -93.84 L457.68 -91 L456.8 -88.16 L455.92 -85.33 L455.04 -82.49 L454.16 -79.66 L453.27 -76.82 L452.38 -73.99 L451.5 -71.15 L450.61 -68.32 L449.72 -65.48 L448.82 -62.65 L447.93 -59.82 L447.04 -56.99 L446.14 -54.15 L445.24 -51.32 L444.34 -48.49 L443.44 -45.66 L442.54 -42.83 L441.64 -40 L440.73 -37.17 L439.83 -34.34 L438.92 -31.51 L438.01 -28.69 L437.1 -25.86 L436.19 -23.03 L435.28 -20.21 L434.36 -17.38 L433.45 -14.55 L432.53 -11.73 L431.61 -8.9 L430.69 -6.08 L429.77 -3.26 L428.85 -0.43 L425.56 0.62 L426.5 -2.25 L427.44 -5.12 L428.37 -7.99 L429.31 -10.87 L430.24 -13.74 L431.17 -16.61 L432.1 -19.48 L433.03 -22.36 L433.96 -25.23 L434.88 -28.1 L435.81 -30.98 L436.73 -33.85 L437.65 -36.73 L438.57 -39.6 L439.49 -42.48 L440.41 -45.36 L441.32 -48.23 L442.24 -51.11 L443.15 -53.99 L444.06 -56.87 L444.97 -59.75 L445.88 -62.63 L446.79 -65.51 L447.69 -68.39 L448.6 -71.27 L449.5 -74.15 L450.4 -77.03 L451.3 -79.91 L452.2 -82.79 L453.1 -85.68 L453.99 -88.56 L454.89 -91.44 L455.78 -94.33 L456.67 -97.21 L457.56 -100.1 L458.45 -102.98 L459.34 -105.87 L460.22 -108.76 L461.11 -111.64 L461.99 -114.53 Z" fill="#ff4040"/>
<path d="M413.86 0.36 L412.92 3.21 L411.98 6.07 L411.04 8.93 L410.1 11.78 L409.16 14.64 L408.21 17.5 L407.27 20.35 L406.32 23.2 L405.37 26.06 L404.42 28.91 L403.47 31.76 L402.51 34.62 L401.56 37.47 L400.6 40.32 L399.64 43.17 L398.69 46.02 L397.73 48.87 L396.76 51.72 L395.8 54.57 L394.84 57.42 L393.87 60.27 L392.9 63.11 L391.93 65.96 L390.96 68.81 L389.99 71.65 L389.02 74.5 L388.04 77.35 L387.07 80.19 L386.09 83.03 L385.11 85.88 L384.13 88.72 L383.15 91.56 L382.17 94.41 L381.18 97.25 L380.2 100.09 L379.21 102.93 L378.22 105.77 L383.17 112.84 L391.44 110.38 L392.43 107.53 L393.42 104.68 L394.41 101.83 L395.4 98.99 L396.38 96.14 L397.37 93.29 L398.35 90.44 L399.33 87.59 L400.31 84.74 L401.29 81.89 L402.26 79.03 L403.24 76.18 L404.21 73.33 L405.19 70.47 L406.16 67.62 L407.13 64.77 L408.09 61.91 L409.06 59.06 L410.03 56.2 L410.99 53.35 L411.95 50.49 L412.91 47.63 L413.87 44.77 L414.83 41.92 L415.79 39.06 L416.75 36.2 L417.7 33.34 L418.65 30.48 L419.6 27.62 L420.55 24.76 L421.5 21.9 L422.45 19.04 L423.39 16.17 L424.34 13.31 L425.28 10.45 L426.22 7.58 L427.16 4.72 Z" fill="#ff0000"/>
<path d="M413.86 0.36 L412.92 3.21 L411.98 6.07 L411.04 8.93 L410.1 11.78 L409.16 14.64 L408.21 17.5 L407.27 20.35 L406.32 23.2 L405.37 26.06 L404.42 28.91 L403.47 31.76 L402.51 34.62 L401.56 37.47 L400.6 40.32 L399.64 43.17 L398.69 46.02 L397.73 48.87 L396.76 51.72 L395.8 54.57 L394.84 57.42 L393.87 60.27 L392.9 63.11 L391.93 65.96 L390.96 68.81 L389.99 71.65 L389.02 74.5 L388.04 77.35 L387.07 80.19 L386.09 83.03 L385.11 85.88 L384.13 88.72 L383.15 91.56 L382.17 94.41 L381.18 97.25 L380.2 100.09 L379.21 102.93 L378.22 105.77 L380.2 108.6 L381.18 105.78 L382.16 102.96 L383.14 100.15 L384.12 97.33 L385.1 94.51 L386.07 91.69 L387.04 88.87 L388.02 86.05 L388.99 83.23 L389.95 80.41 L390.92 77.59 L391.89 74.76 L392.85 71.94 L393.82 69.12 L394.78 66.3 L395.74 63.47 L396.7 60.65 L397.66 57.82 L398.61 55 L399.57 52.17 L400.52 49.35 L401.47 46.52 L402.42 43.69 L403.37 40.86 L404.32 38.04 L405.27 35.21 L406.21 32.38 L407.16 29.55 L408.1 26.72 L409.04 23.89 L409.98 21.06 L410.92 18.23 L411.86 15.39 L412.79 12.56 L413.73 9.73 L414.66 6.9 L415.59 4.06 L416.52 1.23 Z" fill="#bf0000"/>
<path d="M427.16 4.72 L426.22 7.58 L425.28 10.45 L424.34 13.31 L423.39 16.17 L422.45 19.04 L421.5 21.9 L420.55 24.76 L419.6 27.62 L418.65 30.48 L417.7 33.34 L416.75 36.2 L415.79 39.06 L414.83 41.92 L413.87 44.77 L412.91 47.63 L411.95 50.49 L410.99 53.35 L410.03 56.2 L409.06 59.06 L408.09 61.91 L407.13 64.77 L406.16 67.62 L405.19 70.47 L404.21 73.33 L403.24 76.18 L402.26 79.03 L401.29 81.89 L400.31 84.74 L399.33 87.59 L398.35 90.44 L397.37 93.29 L396.38 96.14 L395.4 98.99 L394.41 101.83 L393.42 104.68 L392.43 107.53 L391.44 110.38 L388.14 111.36 L389.12 108.54 L390.1 105.72 L391.08 102.9 L392.06 100.08 L393.03 97.25 L394.01 94.43 L394.98 91.61 L395.96 88.78 L396.93 85.96 L397.9 83.13 L398.87 80.31 L399.84 77.48 L400.8 74.66 L401.77 71.83 L402.73 69 L403.69 66.17 L404.65 63.35 L405.61 60.52 L406.57 57.69 L407.53 54.86 L408.48 52.03 L409.43 49.2 L410.39 46.37 L411.34 43.54 L412.29 40.7 L413.23 37.87 L414.18 35.04 L415.13 32.21 L416.07 29.37 L417.01 26.54 L417.95 23.7 L418.89 20.87 L419.83 18.03 L420.77 15.2 L421.7 12.36 L422.64 9.52 L423.57 6.68 L424.5 3.85 Z" fill="#ff4040"/>
<path d="M376.25 111.44 L375.26 114.25 L374.28 117.06 L373.3 119.86 L372.31 122.67 L371.32 125.48 L370.33 128.29 L369.34 131.09 L368.35 133.9 L367.36 136.7 L366.36 139.51 L365.37 142.31 L364.37 145.11 L369.27 152.21 L377.56 149.81 L378.56 147 L379.56 144.19 L380.55 141.38 L381.55 138.57 L382.54 135.75 L383.54 132.94 L384.53 130.13 L385.52 127.31 L386.51 124.5 L387.49 121.69 L388.48 118.87 L389.46 116.06 Z" fill="#ff0000"/>
<path d="M376.25 111.44 L375.26 114.25 L374.28 117.06 L373.3 119.86 L372.31 122.67 L371.32 125.48 L370.33 128.29 L369.34 131.09 L368.35 133.9 L367.36 136.7 L366.36 139.51 L365.37 142.31 L364.37 145.11 L366.33 147.95 L367.39 144.99 L368.44 142.03 L369.49 139.06 L370.54 136.1 L371.59 133.13 L372.64 130.17 L373.68 127.2 L374.73 124.23 L375.77 121.27 L376.81 118.3 L377.85 115.33 L378.89 112.36 Z" fill="#bf0000"/>
<path d="M389.46 116.06 L388.48 118.87 L387.49 121.69 L386.51 124.5 L385.52 127.31 L384.53 130.13 L383.54 132.94 L382.54 135.75 L381.55 138.57 L380.55 141.38 L379.56 144.19 L378.56 147 L377.56 149.81 L374.24 150.77 L375.3 147.81 L376.36 144.84 L377.41 141.87 L378.46 138.9 L379.51 135.93 L380.56 132.96 L381.61 129.99 L382.65 127.02 L383.7 124.05 L384.74 121.08 L385.78 118.11 L386.82 115.13 Z" fill="#ff4040"/>
<path d="M362.03 151.67 L361.02 154.49 L360.01 157.31 L359 160.13 L357.99 162.95 L356.98 165.77 L355.96 168.59 L354.94 171.4 L353.93 174.22 L352.91 177.04 L351.89 179.85 L350.86 182.67 L349.84 185.48 L348.82 188.3 L347.79 191.11 L346.76 193.92 L345.73 196.73 L344.7 199.55 L343.67 202.36 L342.64 205.17 L341.6 207.98 L340.57 210.79 L339.53 213.6 L338.49 216.41 L337.45 219.22 L336.41 222.02 L335.37 224.83 L340.17 232 L348.49 229.71 L349.54 226.9 L350.58 224.08 L351.62 221.27 L352.66 218.45 L353.7 215.63 L354.74 212.82 L355.78 210 L356.81 207.18 L357.85 204.37 L358.88 201.55 L359.91 198.73 L360.94 195.91 L361.97 193.09 L363 190.27 L364.02 187.45 L365.05 184.63 L366.07 181.8 L367.09 178.98 L368.11 176.16 L369.13 173.34 L370.15 170.51 L371.16 167.69 L372.18 164.86 L373.19 162.04 L374.2 159.21 L375.21 156.38 Z" fill="#ff0000"/>
<path d="M362.03 151.67 L361.02 154.49 L360.01 157.31 L359 160.13 L357.99 162.95 L356.98 165.77 L355.96 168.59 L354.94 171.4 L353.93 174.22 L352.91 177.04 L351.89 179.85 L350.86 182.67 L349.84 185.48 L348.82 188.3 L347.79 191.11 L346.76 193.92 L345.73 196.73 L344.7 199.55 L343.67 202.36 L342.64 205.17 L341.6 207.98 L340.57 210.79 L339.53 213.6 L338.49 216.41 L337.45 219.22 L336.41 222.02 L335.37 224.83 L337.29 227.7 L338.36 224.82 L339.43 221.93 L340.5 219.05 L341.57 216.17 L342.63 213.29 L343.69 210.4 L344.76 207.52 L345.82 204.63 L346.88 201.75 L347.94 198.86 L348.99 195.98 L350.05 193.09 L351.1 190.2 L352.15 187.31 L353.2 184.42 L354.25 181.54 L355.3 178.65 L356.35 175.76 L357.39 172.87 L358.44 169.97 L359.48 167.08 L360.52 164.19 L361.56 161.3 L362.6 158.4 L363.63 155.51 L364.67 152.62 Z" fill="#bf0000"/>
<path d="M375.21 156.38 L374.2 159.21 L373.19 162.04 L372.18 164.86 L371.16 167.69 L370.15 170.51 L369.13 173.34 L368.11 176.16 L367.09 178.98 L366.07 181.8 L365.05 184.63 L364.02 187.45 L363 190.27 L361.97 193.09 L360.94 195.91 L359.91 198.73 L358.88 201.55 L357.85 204.37 L356.81 207.18 L355.78 210 L354.74 212.82 L353.7 215.63 L352.66 218.45 L351.62 221.27 L350.58 224.08 L349.54 226.9 L348.49 229.71 L345.16 230.63 L346.23 227.74 L347.31 224.86 L348.38 221.97 L349.44 219.08 L350.51 216.2 L351.58 213.31 L352.64 210.42 L353.7 207.53 L354.76 204.64 L355.82 201.75 L356.88 198.86 L357.94 195.97 L358.99 193.08 L360.05 190.19 L361.1 187.29 L362.15 184.4 L363.2 181.51 L364.25 178.61 L365.29 175.72 L366.34 172.82 L367.38 169.93 L368.42 167.03 L369.46 164.14 L370.5 161.24 L371.54 158.34 L372.58 155.44 Z" fill="#ff4040"/>
<path d="M333.27 230.45 L332.2 233.34 L331.12 236.22 L330.04 239.11 L328.96 241.99 L327.88 244.87 L326.79 247.76 L325.71 250.64 L324.62 253.52 L323.53 256.4 L322.44 259.28 L321.35 262.16 L320.26 265.04 L319.17 267.92 L318.07 270.79 L316.97 273.67 L315.88 276.55 L320.61 283.76 L328.95 281.54 L330.05 278.66 L331.15 275.78 L332.25 272.89 L333.35 270.01 L334.44 267.12 L335.54 264.24 L336.63 261.35 L337.72 258.46 L338.81 255.58 L339.9 252.69 L340.98 249.8 L342.07 246.91 L343.15 244.02 L344.23 241.13 L345.31 238.24 L346.39 235.35 Z" fill="#ff0000"/>
<path d="M333.27 230.45 L332.2 233.34 L331.12 236.22 L330.04 239.11 L328.96 241.99 L327.88 244.87 L326.79 247.76 L325.71 250.64 L324.62 253.52 L323.53 256.4 L322.44 259.28 L321.35 262.16 L320.26 265.04 L319.17 267.92 L318.07 270.79 L316.97 273.67 L315.88 276.55 L317.77 279.43 L318.85 276.61 L319.92 273.79 L321 270.97 L322.07 268.15 L323.14 265.33 L324.22 262.51 L325.28 259.69 L326.35 256.86 L327.42 254.04 L328.48 251.22 L329.55 248.39 L330.61 245.57 L331.67 242.74 L332.73 239.91 L333.79 237.09 L334.84 234.26 L335.9 231.43 Z" fill="#bf0000"/>
<path d="M346.39 235.35 L345.31 238.24 L344.23 241.13 L343.15 244.02 L342.07 246.91 L340.98 249.8 L339.9 252.69 L338.81 255.58 L337.72 258.46 L336.63 261.35 L335.54 264.24 L334.44 267.12 L333.35 270.01 L332.25 272.89 L331.15 275.78 L330.05 278.66 L328.95 281.54 L325.62 282.43 L326.7 279.61 L327.77 276.78 L328.85 273.96 L329.92 271.14 L331 268.31 L332.07 265.48 L333.14 262.66 L334.21 259.83 L335.28 257 L336.34 254.18 L337.41 251.35 L338.47 248.52 L339.53 245.69 L340.59 242.86 L341.65 240.03 L342.71 237.2 L343.77 234.37 Z" fill="#ff4040"/>
<path d="M314.02 281.39 L312.93 284.25 L311.83 287.11 L310.73 289.97 L309.63 292.83 L308.53 295.69 L307.42 298.55 L306.32 301.4 L305.21 304.26 L304.1 307.12 L302.99 309.97 L301.88 312.83 L300.77 315.68 L299.66 318.53 L298.54 321.39 L297.42 324.24 L296.31 327.09 L295.19 329.94 L294.07 332.8 L292.94 335.65 L291.82 338.5 L296.48 345.76 L304.84 343.63 L305.97 340.78 L307.09 337.92 L308.22 335.06 L309.34 332.21 L310.46 329.35 L311.58 326.49 L312.7 323.63 L313.81 320.77 L314.93 317.91 L316.04 315.05 L317.15 312.18 L318.26 309.32 L319.37 306.46 L320.48 303.59 L321.59 300.73 L322.69 297.86 L323.8 295 L324.9 292.13 L326 289.27 L327.1 286.4 Z" fill="#ff0000"/>
<path d="M314.02 281.39 L312.93 284.25 L311.83 287.11 L310.73 289.97 L309.63 292.83 L308.53 295.69 L307.42 298.55 L306.32 301.4 L305.21 304.26 L304.1 307.12 L302.99 309.97 L301.88 312.83 L300.77 315.68 L299.66 318.53 L298.54 321.39 L297.42 324.24 L296.31 327.09 L295.19 329.94 L294.07 332.8 L292.94 335.65 L291.82 338.5 L293.68 341.4 L294.79 338.59 L295.9 335.79 L297 332.98 L298.1 330.18 L299.2 327.37 L300.3 324.56 L301.4 321.76 L302.5 318.95 L303.6 316.14 L304.69 313.33 L305.78 310.52 L306.88 307.71 L307.97 304.9 L309.05 302.09 L310.14 299.28 L311.23 296.46 L312.31 293.65 L313.4 290.84 L314.48 288.02 L315.56 285.21 L316.64 282.39 Z" fill="#bf0000"/>
<path d="M327.1 286.4 L326 289.27 L324.9 292.13 L323.8 295 L322.69 297.86 L321.59 300.73 L320.48 303.59 L319.37 306.46 L318.26 309.32 L317.15 312.18 L316.04 315.05 L314.93 317.91 L313.81 320.77 L312.7 323.63 L311.58 326.49 L310.46 329.35 L309.34 332.21 L308.22 335.06 L307.09 337.92 L305.97 340.78 L304.84 343.63 L301.5 344.48 L302.6 341.68 L303.71 338.87 L304.82 336.06 L305.92 333.25 L307.02 330.44 L308.13 327.63 L309.23 324.82 L310.32 322 L311.42 319.19 L312.52 316.38 L313.61 313.56 L314.71 310.75 L315.8 307.94 L316.89 305.12 L317.98 302.3 L319.06 299.49 L320.15 296.67 L321.24 293.85 L322.32 291.04 L323.4 288.22 L324.48 285.4 Z" fill="#ff4040"/>
<path d="M271.35 389.68 L270.23 392.45 L269.1 395.23 L267.97 398 L266.84 400.78 L265.71 403.55 L264.58 406.32 L263.45 409.09 L262.31 411.87 L261.18 414.64 L260.04 417.41 L258.9 420.18 L257.76 422.95 L256.62 425.72 L255.48 428.49 L254.33 431.25 L253.19 434.02 L252.04 436.79 L250.89 439.55 L249.74 442.32 L248.59 445.09 L247.44 447.85 L251.95 455.2 L260.36 453.24 L261.51 450.47 L262.67 447.7 L263.82 444.93 L264.97 442.15 L266.12 439.38 L267.27 436.61 L268.42 433.83 L269.56 431.06 L270.71 428.28 L271.85 425.51 L272.99 422.73 L274.13 419.95 L275.27 417.17 L276.41 414.4 L277.54 411.62 L278.68 408.84 L279.81 406.06 L280.94 403.28 L282.07 400.5 L283.2 397.71 L284.33 394.93 Z" fill="#ff0000"/>
<path d="M271.35 389.68 L270.23 392.45 L269.1 395.23 L267.97 398 L266.84 400.78 L265.71 403.55 L264.58 406.32 L263.45 409.09 L262.31 411.87 L261.18 414.64 L260.04 417.41 L258.9 420.18 L257.76 422.95 L256.62 425.72 L255.48 428.49 L254.33 431.25 L253.19 434.02 L252.04 436.79 L250.89 439.55 L249.74 442.32 L248.59 445.09 L247.44 447.85 L249.24 450.79 L250.44 447.93 L251.62 445.08 L252.81 442.22 L254 439.37 L255.18 436.51 L256.37 433.66 L257.55 430.8 L258.73 427.94 L259.91 425.08 L261.09 422.22 L262.26 419.36 L263.44 416.5 L264.61 413.64 L265.79 410.78 L266.96 407.91 L268.13 405.05 L269.29 402.19 L270.46 399.32 L271.62 396.46 L272.79 393.59 L273.95 390.73 Z" fill="#bf0000"/>
<path d="M284.33 394.93 L283.2 397.71 L282.07 400.5 L280.94 403.28 L279.81 406.06 L278.68 408.84 L277.54 411.62 L276.41 414.4 L275.27 417.17 L274.13 419.95 L272.99 422.73 L271.85 425.51 L270.71 428.28 L269.56 431.06 L268.42 433.83 L267.27 436.61 L266.12 439.38 L264.97 442.15 L263.82 444.93 L262.67 447.7 L261.51 450.47 L260.36 453.24 L257 454.03 L258.19 451.17 L259.38 448.31 L260.57 445.45 L261.76 442.59 L262.94 439.73 L264.13 436.87 L265.31 434.01 L266.5 431.14 L267.68 428.28 L268.86 425.42 L270.03 422.55 L271.21 419.69 L272.39 416.82 L273.56 413.96 L274.73 411.09 L275.9 408.23 L277.07 405.36 L278.24 402.49 L279.41 399.62 L280.57 396.75 L281.73 393.88 Z" fill="#ff4040"/>
<path d="M245.9 451.54 L244.56 454.74 L243.22 457.94 L241.88 461.14 L240.53 464.33 L239.19 467.53 L243.68 474.89 L252.09 472.96 L253.44 469.76 L254.78 466.56 L256.13 463.35 L257.47 460.15 L258.81 456.94 Z" fill="#ff0000"/>
<path d="M245.9 451.54 L244.56 454.74 L243.22 457.94 L241.88 461.14 L240.53 464.33 L239.19 467.53 L240.98 470.47 L242.24 467.5 L243.49 464.52 L244.74 461.55 L245.99 458.57 L247.23 455.6 L248.48 452.62 Z" fill="#bf0000"/>
<path d="M258.81 456.94 L257.47 460.15 L256.13 463.35 L254.78 466.56 L253.44 469.76 L252.09 472.96 L248.72 473.74 L249.98 470.76 L251.23 467.78 L252.48 464.8 L253.73 461.82 L254.98 458.84 L256.23 455.86 Z" fill="#ff4040"/>
<path d="M288.04 396.43 L286.92 399.19 L285.8 401.95 L284.68 404.71 L283.55 407.47 L282.43 410.23 L281.3 412.99 L280.18 415.75 L279.05 418.5 L277.92 421.26 L276.79 424.01 L275.65 426.77 L274.52 429.52 L273.38 432.28 L272.25 435.03 L271.11 437.78 L269.97 440.54 L268.83 443.29 L267.69 446.04 L266.54 448.79 L265.4 451.54 L264.25 454.29 L263.11 457.04 L261.96 459.79 L274.87 465.19 L276.03 462.43 L277.18 459.68 L278.32 456.92 L279.47 454.17 L280.62 451.41 L281.76 448.65 L282.9 445.89 L284.05 443.13 L285.19 440.38 L286.33 437.62 L287.46 434.86 L288.6 432.1 L289.74 429.33 L290.87 426.57 L292 423.81 L293.13 421.05 L294.26 418.28 L295.39 415.52 L296.52 412.75 L297.64 409.99 L298.77 407.22 L299.89 404.46 L301.01 401.69 Z" fill="#ff1493"/>
<path d="M288.04 396.43 L286.92 399.19 L285.8 401.95 L284.68 404.71 L283.55 407.47 L282.43 410.23 L281.3 412.99 L280.18 415.75 L279.05 418.5 L277.92 421.26 L276.79 424.01 L275.65 426.77 L274.52 429.52 L273.38 432.28 L272.25 435.03 L271.11 437.78 L269.97 440.54 L268.83 443.29 L267.69 446.04 L266.54 448.79 L265.4 451.54 L264.25 454.29 L263.11 457.04 L261.96 459.79 L264.54 460.87 L265.69 458.12 L266.84 455.37 L267.99 452.62 L269.13 449.86 L270.27 447.11 L271.42 444.36 L272.56 441.61 L273.7 438.85 L274.84 436.1 L275.97 433.35 L277.11 430.59 L278.24 427.83 L279.38 425.08 L280.51 422.32 L281.64 419.56 L282.77 416.81 L283.89 414.05 L285.02 411.29 L286.15 408.53 L287.27 405.77 L288.39 403.01 L289.51 400.25 L290.63 397.49 Z" fill="#bf0f6e"/>
<path d="M298.42 400.64 L297.3 403.41 L296.17 406.17 L295.05 408.93 L293.93 411.7 L292.8 414.46 L291.67 417.22 L290.54 419.99 L289.41 422.75 L288.28 425.51 L287.15 428.27 L286.01 431.03 L284.88 433.79 L283.74 436.55 L282.6 439.31 L281.46 442.06 L280.32 444.82 L279.18 447.58 L278.03 450.33 L276.89 453.09 L275.74 455.85 L274.59 458.6 L273.44 461.35 L272.29 464.11 L274.87 465.19 L276.03 462.43 L277.18 459.68 L278.32 456.92 L279.47 454.17 L280.62 451.41 L281.76 448.65 L282.9 445.89 L284.05 443.13 L285.19 440.38 L286.33 437.62 L287.46 434.86 L288.6 432.1 L289.74 429.33 L290.87 426.57 L292 423.81 L293.13 421.05 L294.26 418.28 L295.39 415.52 L296.52 412.75 L297.64 409.99 L298.77 407.22 L299.89 404.46 L301.01 401.69 Z" fill="#ff4fae"/>
<path d="M275.69 324.59 L267.34 326.7 L266.16 329.68 L264.99 332.66 L263.8 335.65 L262.62 338.63 L261.44 341.61 L260.25 344.59 L259.07 347.57 L257.88 350.55 L256.69 353.53 L255.5 356.51 L268.49 361.72 L269.69 358.73 L270.88 355.74 L272.07 352.76 L273.26 349.77 L274.45 346.78 L275.64 343.79 L276.82 340.8 L278 337.81 L279.19 334.82 L280.37 331.83 Z" fill="#0000ff"/>
<path d="M267.34 326.7 L266.16 329.68 L264.99 332.66 L263.8 335.65 L262.62 338.63 L261.44 341.61 L260.25 344.59 L259.07 347.57 L257.88 350.55 L256.69 353.53 L255.5 356.51 L258.09 357.55 L259.25 354.67 L260.4 351.8 L261.55 348.92 L262.69 346.03 L263.84 343.15 L264.98 340.27 L266.13 337.39 L267.27 334.51 L268.41 331.62 L269.55 328.74 L270.68 325.86 Z" fill="#0000bf"/>
<path d="M280.37 331.83 L279.19 334.82 L278 337.81 L276.82 340.8 L275.64 343.79 L274.45 346.78 L273.26 349.77 L272.07 352.76 L270.88 355.74 L269.69 358.73 L268.49 361.72 L265.89 360.68 L267.05 357.79 L268.2 354.91 L269.35 352.03 L270.5 349.14 L271.64 346.26 L272.79 343.37 L273.93 340.48 L275.08 337.6 L276.22 334.71 L277.36 331.82 L278.5 328.93 Z" fill="#4040ff"/>
<path d="M262.21 358.57 L253.85 360.62 L252.64 363.63 L251.43 366.64 L250.22 369.65 L249 372.66 L261.98 377.9 L263.2 374.89 L264.42 371.87 L265.63 368.85 L266.84 365.83 Z" fill="#0000ff"/>
<path d="M253.85 360.62 L252.64 363.63 L251.43 366.64 L250.22 369.65 L249 372.66 L251.6 373.71 L252.72 370.93 L253.84 368.15 L254.96 365.37 L256.08 362.58 L257.19 359.8 Z" fill="#0000bf"/>
<path d="M266.84 365.83 L265.63 368.85 L264.42 371.87 L263.2 374.89 L261.98 377.9 L259.39 376.86 L260.51 374.07 L261.63 371.29 L262.75 368.5 L263.87 365.71 L264.99 362.93 Z" fill="#4040ff"/>
<path d="M252.58 315.34 L251.44 318.23 L250.3 321.12 L249.16 324.01 L248.01 326.9 L246.87 329.79 L245.73 332.68 L244.58 335.57 L243.43 338.45 L242.28 341.34 L241.13 344.23 L239.98 347.11 L238.82 350 L251.82 355.2 L252.98 352.31 L254.13 349.42 L255.29 346.52 L256.44 343.63 L257.59 340.74 L258.74 337.84 L259.89 334.95 L261.03 332.05 L262.18 329.16 L263.32 326.26 L264.46 323.36 L265.6 320.46 Z" fill="#33cc33"/>
<path d="M252.58 315.34 L251.44 318.23 L250.3 321.12 L249.16 324.01 L248.01 326.9 L246.87 329.79 L245.73 332.68 L244.58 335.57 L243.43 338.45 L242.28 341.34 L241.13 344.23 L239.98 347.11 L238.82 350 L241.42 351.04 L242.58 348.15 L243.73 345.26 L244.88 342.38 L246.03 339.49 L247.18 336.6 L248.33 333.71 L249.47 330.82 L250.62 327.93 L251.76 325.04 L252.9 322.15 L254.04 319.26 L255.18 316.37 Z" fill="#269926"/>
<path d="M263 319.44 L261.86 322.34 L260.72 325.23 L259.57 328.13 L258.43 331.02 L257.28 333.92 L256.14 336.81 L254.99 339.7 L253.84 342.6 L252.68 345.49 L251.53 348.38 L250.38 351.27 L249.22 354.16 L251.82 355.2 L252.98 352.31 L254.13 349.42 L255.29 346.52 L256.44 343.63 L257.59 340.74 L258.74 337.84 L259.89 334.95 L261.03 332.05 L262.18 329.16 L263.32 326.26 L264.46 323.36 L265.6 320.46 Z" fill="#66d966"/>
<line x1="440.4" y1="70" x2="487" y2="86" stroke="#ff0000" stroke-width="1.1"/>
<line x1="414.6" y1="146.4" x2="460.4" y2="162.6" stroke="#ff0000" stroke-width="1.1"/>
<line x1="392.7" y1="207.3" x2="438.5" y2="223.5" stroke="#ff0000" stroke-width="1.1"/>
<line x1="368.25" y1="272.7" x2="413.2" y2="289.4" stroke="#ff0000" stroke-width="1.1"/>
<line x1="346.4" y1="329.5" x2="392.25" y2="347.3" stroke="#ff0000" stroke-width="1.1"/>
<line x1="302.2" y1="439.3" x2="347.5" y2="457.45" stroke="#ff0000" stroke-width="1.1"/>
<line x1="285.5" y1="480.1" x2="330.4" y2="499" stroke="#ff0000" stroke-width="1.1"/>
<line x1="231.4" y1="326.6" x2="187.6" y2="309.4" stroke="#0000ff" stroke-width="1.1"/>
<line x1="221.6" y1="351.6" x2="178" y2="334.4" stroke="#0000ff" stroke-width="1.1"/>
<text x="288.55" y="73.1" class="tk" textLength="39.13" lengthAdjust="spacing" font-stretch="normal">1129 kbp</text>
<text x="264.73" y="141.9" class="tk" textLength="38.87" lengthAdjust="spacing" font-stretch="normal">1130 kbp</text>
<text x="239.73" y="209.9" class="tk" textLength="38.87" lengthAdjust="spacing" font-stretch="normal">1131 kbp</text>
<text x="213.55" y="278.9" class="tk" textLength="39.13" lengthAdjust="spacing" font-stretch="normal">1132 kbp</text>
<text x="186.58" y="346.9" class="tk" textLength="38.71" lengthAdjust="spacing" font-stretch="normal">1133 kbp</text>
<text x="159.73" y="414.7" class="tk" textLength="38.87" lengthAdjust="spacing" font-stretch="normal">1134 kbp</text>
<text x="130.75" y="481.9" class="tk" textLength="38.82" lengthAdjust="spacing" font-stretch="normal">1135 kbp</text>
<text x="101.54" y="548.7" class="tk" textLength="38.75" lengthAdjust="spacing" font-stretch="normal">1136 kbp</text>
<text x="487.61" y="88.8" class="fl" textLength="50.25" lengthAdjust="spacing" font-stretch="condensed" fill="#ff0000">Pcar_0957</text>
<text x="461.62" y="164.75" class="fl" textLength="49.94" lengthAdjust="spacing" font-stretch="condensed" fill="#ff0000">Pcar_0958</text>
<text x="439.04" y="225.1" class="fl" textLength="50.88" lengthAdjust="spacing" font-stretch="condensed" fill="#ff0000">Pcar_0959</text>
<text x="414.04" y="292.5" class="fl" textLength="50.91" lengthAdjust="spacing" font-stretch="condensed" fill="#ff0000">Pcar_0960</text>
<text x="392.79" y="349.8" class="fl" textLength="49.47" lengthAdjust="spacing" font-stretch="condensed" fill="#ff0000">Pcar_0961</text>
<text x="348.58" y="459.5" class="fl" textLength="21.61" lengthAdjust="spacing" font-stretch="condensed" fill="#ff0000">cas1</text>
<text x="331.58" y="501.5" class="fl" textLength="51.07" lengthAdjust="spacing" font-stretch="condensed" fill="#ff0000">Pcar_0965</text>
<text x="135.48" y="309.4" class="fl" textLength="50.96" lengthAdjust="spacing" font-stretch="condensed" fill="#0000ff">Pcar_0962</text>
<text x="125.54" y="334.4" class="fl" textLength="50.68" lengthAdjust="spacing" font-stretch="condensed" fill="#0000ff">Pcar_0963</text>
<rect x="105" y="4.5" width="390" height="26.2" fill="#fff" fill-opacity="0.8"/>
<rect x="4" y="570" width="145" height="25" fill="#fff" fill-opacity="0.8"/>
<rect x="256" y="570" width="340" height="25" fill="#fff" fill-opacity="0.8"/>
<text y="22.8" class="ti"><tspan x="118.23" textLength="69.84" lengthAdjust="spacing" font-stretch="condensed">Pelobacter</tspan> <tspan x="195.2" textLength="80.63" lengthAdjust="spacing" font-stretch="condensed">carbinolicus</tspan> <tspan x="281.04" textLength="30.3" lengthAdjust="spacing" font-stretch="normal">DSM</tspan> <tspan x="315.55" textLength="38.26" lengthAdjust="spacing" font-stretch="normal">2380,</tspan> <tspan x="359.72" textLength="61.21" lengthAdjust="spacing" font-stretch="condensed">complete</tspan> <tspan x="426.05" textLength="54.62" lengthAdjust="spacing" font-stretch="condensed">genome</tspan></text>
<text y="586.5" class="lg"><tspan x="9.22" textLength="58.79" lengthAdjust="spacing" font-stretch="condensed">Accession:</tspan> <tspan x="72.6" textLength="71.63" lengthAdjust="spacing" font-stretch="normal">NC_007498</tspan></text>
<text y="586.5" class="lg"><tspan x="262.47" textLength="56.12" lengthAdjust="spacing" font-stretch="normal">Topology:</tspan> <tspan x="322.8" textLength="45.29" lengthAdjust="spacing" font-stretch="condensed">circular;</tspan> <tspan x="372.65" textLength="42.16" lengthAdjust="spacing" font-stretch="condensed">Length:</tspan> <tspan x="418.32" textLength="63.78" lengthAdjust="spacing" font-stretch="normal">3,665,893</tspan> <tspan x="487.11" textLength="19.06" lengthAdjust="spacing" font-stretch="condensed">bp;</tspan> <tspan x="510.86" textLength="40.23" lengthAdjust="spacing" font-stretch="condensed">Genes:</tspan> <tspan x="555.28" textLength="34.89" lengthAdjust="spacing" font-stretch="normal">3,415</tspan></text>
</svg>
</body></html>
